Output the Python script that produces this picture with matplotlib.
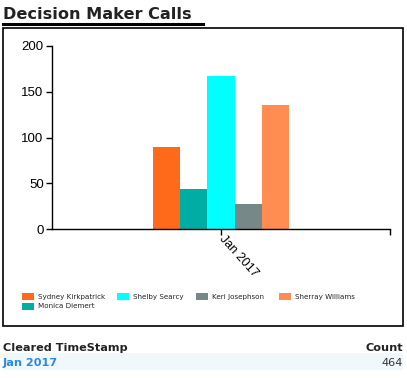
import matplotlib
matplotlib.use("Agg")
import matplotlib.pyplot as plt
from matplotlib.patches import Rectangle
from matplotlib.lines import Line2D

W, H = 407, 378
title = "Decision Maker Calls"
category = ["Jan 2017"]
series_names = ["Sydney Kirkpatrick", "Monica Diemert", "Shelby Searcy", "Keri Josephson", "Sherray Williams"]
series_values = [90, 44, 167, 27, 136]
series_colors = ["#FF6A1A", "#00ADA5", "#00FFFF", "#778888", "#FF8C50"]
legend_order = ["Sydney Kirkpatrick", "Shelby Searcy", "Keri Josephson", "Sherray Williams", "Monica Diemert"]
yticks = [0, 50, 100, 150, 200]
table_header = ["Cleared TimeStamp", "Count"]
table_rows = [("Jan 2017", 464)]

def fx(x): return x / W
def fy(y): return 1 - y / H

fig = plt.figure(figsize=(W / 100, H / 100), dpi=100)
fig.patch.set_facecolor("white")

# title + underline
fig.text(fx(3), fy(19), title, fontsize=11.6, fontweight="bold", family="DejaVu Sans",
         color="#222222", va="baseline", ha="left")
fig.add_artist(Line2D([fx(3), fx(203)], [fy(24), fy(24)], color="black", lw=2.2))
# outer box
fig.add_artist(Rectangle((fx(3), fy(326)), fx(403) - fx(3), fy(28) - fy(326),
                         fill=False, edgecolor="black", lw=1.2))

ax = fig.add_axes([fx(52), fy(229), fx(390) - fx(52), fy(46) - fy(229)])
n = len(series_names)
bw = 0.08
for i, (name, v, c) in enumerate(zip(series_names, series_values, series_colors)):
    ax.bar(0 + (i - (n - 1) / 2) * bw, v, width=bw, color=c, label=name)
ax.set_xlim(-0.5, 0.5)
ax.set_ylim(0, 200)
ax.set_yticks(yticks)
ax.set_xticks([0])
ax.set_xticklabels(category, rotation=-48, rotation_mode="anchor", ha="left", va="center",
                   family="Liberation Sans", fontsize=9)
ax.set_xticks([0.5], minor=True)
for lab in ax.get_yticklabels():
    lab.set_family("Liberation Sans")
    lab.set_fontsize(9.5)
ax.tick_params(axis="both", length=4, width=1, colors="black", pad=2)
ax.tick_params(axis="x", which="minor", length=4, width=1)
for s in ["top", "right"]:
    ax.spines[s].set_visible(False)
for s in ["left", "bottom"]:
    ax.spines[s].set_linewidth(1)

# legend (manual)
pos = {"Sydney Kirkpatrick": (22, 293), "Shelby Searcy": (117, 293), "Keri Josephson": (196, 293),
       "Sherray Williams": (279, 293), "Monica Diemert": (22, 303)}
for name in legend_order:
    c = series_colors[series_names.index(name)]
    x0, y0 = pos[name]
    fig.add_artist(Rectangle((fx(x0), fy(y0 + 7)), fx(x0 + 12) - fx(x0), fy(y0) - fy(y0 + 7),
                             facecolor=c, edgecolor="none"))
    fig.text(fx(x0 + 16), fy(y0 + 3.5), name, fontsize=5.1, family="DejaVu Sans",
             color="#222222", va="center", ha="left")

# table
fig.text(fx(3), fy(351), table_header[0], fontsize=8.1, fontweight="bold", family="DejaVu Sans",
         color="#222222", va="baseline", ha="left")
fig.text(fx(403), fy(351), table_header[1], fontsize=8.1, fontweight="bold", family="DejaVu Sans",
         color="#222222", va="baseline", ha="right")
for r, (lab, cnt) in enumerate(table_rows):
    top = 353 + r * 17
    fig.add_artist(Rectangle((fx(3), fy(top + 17)), fx(403) - fx(3), fy(top) - fy(top + 17),
                             facecolor="#F0F8FC", edgecolor="none"))
    fig.text(fx(3), fy(top + 13), lab, fontsize=8.1, fontweight="bold", family="DejaVu Sans",
             color="#2A8AE0", va="baseline", ha="left")
    fig.text(fx(403), fy(top + 13), str(cnt), fontsize=8.1, family="DejaVu Sans",
             color="#333333", va="baseline", ha="right")

fig.savefig("out.png", dpi=100)
